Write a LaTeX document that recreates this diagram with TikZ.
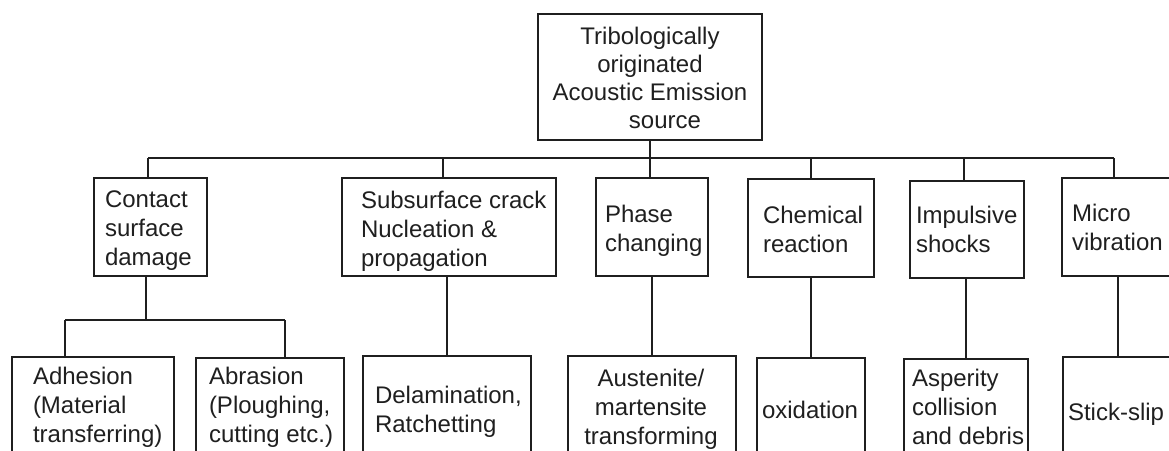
\documentclass[tikz,border=0pt]{standalone}
\usepackage{fontspec}
\setmainfont{Liberation Sans}
\tikzset{
  boxn/.style={draw=black!88, line width=2pt, inner sep=0pt, outer sep=0pt},
  lbl/.style={inner sep=0pt, outer sep=0pt, font=\fontsize{24}{28.8}\selectfont, text=black!88},
  lbll/.style={lbl, align=left, anchor=base west},
  lblc/.style={lbl, align=center, anchor=base},
  con/.style={draw=black!88, line width=2pt}
}
\begin{document}
\begin{tikzpicture}[x=1pt,y=-1pt]
\useasboundingbox (0,0) rectangle (1169,450);
\clip (0,0) rectangle (1169,450);
% level 0
\node[boxn, minimum width=224, minimum height=126] (top) at (650,77) {};
\node[lblc, font=\fontsize{24}{27.7}\selectfont] (topT) at (650,128) {Tribologically\\originated\\Acoustic Emission\\\hspace*{30pt}source};
% level 1
\node[boxn, minimum width=113, minimum height=98] (contact) at (150.5,227) {};
\node[lbll] (contactT) at (105,265) {Contact\\surface\\damage};
\node[boxn, minimum width=214, minimum height=98] (sub) at (449,227) {};
\node[lbll] (subT) at (361,266) {Subsurface crack\\Nucleation \&\\propagation};
\node[boxn, minimum width=112, minimum height=98] (phase) at (652,227) {};
\node[lbll] (phaseT) at (605,251.5) {Phase\\changing};
\node[boxn, minimum width=126, minimum height=98] (chem) at (811,228) {};
\node[lbll] (chemT) at (763,252) {Chemical\\reaction};
\node[boxn, minimum width=114, minimum height=97] (imp) at (967,229.5) {};
\node[lbll] (impT) at (916,252) {Impulsive\\shocks};
\node[boxn, minimum width=118, minimum height=98] (micro) at (1121,227) {};
\node[lbll] (microT) at (1072,250.5) {Micro\\vibration};
% level 2
\node[boxn, minimum width=162, minimum height=113] (adh) at (93,413.5) {};
\node[lbll] (adhT) at (33,442) {Adhesion\\(Material\\transferring)};
\node[boxn, minimum width=148, minimum height=112] (abr) at (270,414) {};
\node[lbll] (abrT) at (209,442) {Abrasion\\(Ploughing,\\cutting etc.)};
\node[boxn, minimum width=168, minimum height=114] (del) at (447,413) {};
\node[lbll] (delT) at (375,432) {Delamination,\\Ratchetting};
\node[boxn, minimum width=168, minimum height=114] (aus) at (652,413) {};
\node[lblc] (ausT) at (651,444) {Austenite/\\martensite\\transforming};
\node[boxn, minimum width=108, minimum height=112] (oxi) at (811,414) {};
\node[lbll] (oxiT) at (762,418) {oxidation};
\node[boxn, minimum width=124, minimum height=111] (asp) at (966,414.5) {};
\node[lbll] (aspT) at (912,444) {Asperity\\collision\\and debris};
\node[boxn, minimum width=118, minimum height=113] (stick) at (1122,413.5) {};
\node[lbll] (stickT) at (1068,420) {Stick-slip};
% connectors level 0 -> 1
\coordinate (busL) at (148,158);
\coordinate (busR) at (1114,158);
\draw[con] (busL) -- (busR);
\draw[con] (top.south) -- (top.south |- phase.north);
\draw[con] (busL) -- (contact.north -| busL);
\draw[con] ([xshift=-6pt]sub.north) -- ([xshift=-6pt]sub.north |- busL);
\draw[con] (chem.north) -- (chem.north |- busL);
\draw[con] ([xshift=-3pt]imp.north) -- ([xshift=-3pt]imp.north |- busL);
\draw[con] (busR) -- (micro.north -| busR);
% connectors level 1 -> 2
\coordinate (splitC) at (146,320);
\coordinate (splitL) at (65,320);
\coordinate (splitR) at (285,320);
\draw[con] (contact.south -| splitC) -- (splitC);
\draw[con] (splitL) -- (splitR);
\draw[con] (splitL) -- (adh.north -| splitL);
\draw[con] (splitR) -- (abr.north -| splitR);
\draw[con] (sub.south -| del.north) -- (del.north);
\draw[con] (phase.south -| aus.north) -- (aus.north);
\draw[con] (chem.south -| oxi.north) -- (oxi.north);
\draw[con] (imp.south -| asp.north) -- (asp.north);
\coordinate (mx) at (1118,0);
\draw[con] (micro.south -| mx) -- (stick.north -| mx);
\end{tikzpicture}
\end{document}
